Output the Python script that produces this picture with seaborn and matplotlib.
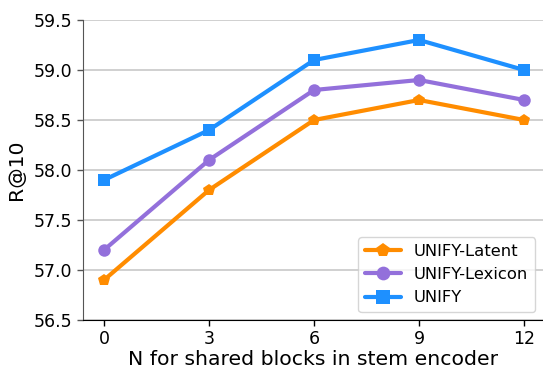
import matplotlib
matplotlib.use("Agg")
import matplotlib.pyplot as plt
import seaborn as sns
import pandas as pd

# shared blocks
n_blocks = [0, 3, 6, 9, 12]
latent = [56.9, 57.8, 58.5, 58.7, 58.5]
lexicon = [57.2, 58.1, 58.8, 58.9, 58.7]
unify = [57.9, 58.4, 59.1, 59.3, 59.0]
series_names = ["UNIFY-Latent", "UNIFY-Lexicon", "UNIFY"]
y_ticks = [56.5, 57.0, 57.5, 58.0, 58.5, 59.0, 59.5]

rows = []
for name, vals in zip(series_names, [latent, lexicon, unify]):
    for n, v in zip(n_blocks, vals):
        rows.append({"N": n, "R@10": v, "model": name})
data = pd.DataFrame(rows)

sns.set_style("white")
plt.rcParams["text.color"] = "black"
plt.rcParams["axes.labelcolor"] = "black"
plt.rcParams["xtick.color"] = "black"
plt.rcParams["ytick.color"] = "black"
fig = plt.figure(figsize=(5.43, 3.69), dpi=100)
ax = fig.add_axes([83 / 543, 49 / 369, 460 / 543, 300 / 369])

palette = {"UNIFY-Latent": "#FF8C00", "UNIFY-Lexicon": "#9370DB", "UNIFY": "#1E90FF"}
markers = {"UNIFY-Latent": "p", "UNIFY-Lexicon": "o", "UNIFY": "s"}
sns.lineplot(data=data, x="N", y="R@10", hue="model", style="model",
             palette=palette, markers=markers, dashes=False,
             linewidth=3, markersize=9, markeredgewidth=0, ax=ax)

ax.set_xlim(-0.6, 12.54)
ax.set_ylim(56.5, 59.5)
ax.set_xticks(n_blocks)
ax.set_yticks(y_ticks)
ax.set_yticklabels([f"{t:.1f}" for t in y_ticks])
ax.yaxis.grid(True, color="#c8c8c8", linewidth=1.2)
ax.set_axisbelow(True)
sns.despine(ax=ax)
ax.spines["left"].set_color("#555555")
ax.spines["bottom"].set_color("black")
ax.tick_params(axis="both", labelsize=12.5, length=4, width=1, bottom=True, left=True)
ax.tick_params(axis="y", color="#555555")
ax.set_xlabel("N for shared blocks in stem encoder", fontsize=14.7, labelpad=1)
ax.set_ylabel("R@10", fontsize=14.7, labelpad=6)
ax.legend(loc="lower right", fontsize=11.8, handlelength=2.2, title=None,
          bbox_to_anchor=(1.0, 0.0), borderaxespad=0.5, markerscale=1.1)

fig.savefig("out.png", dpi=100)
